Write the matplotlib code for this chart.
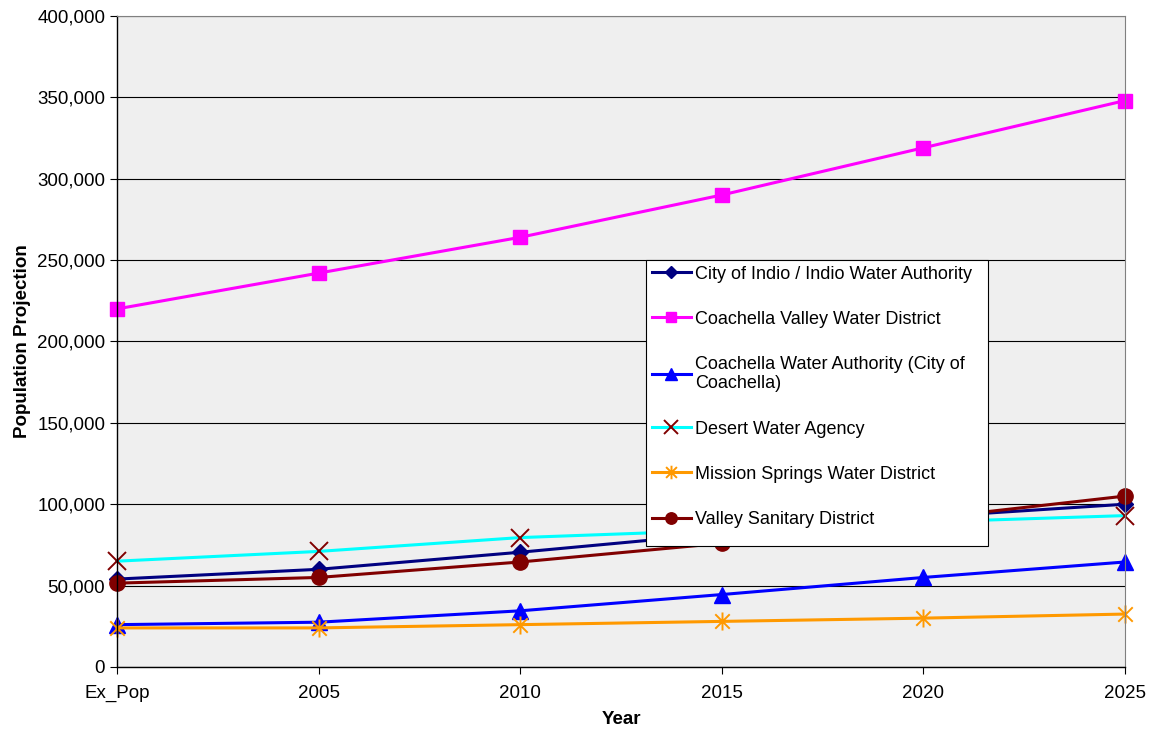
import matplotlib.pyplot as plt
from matplotlib.path import Path
from matplotlib.patches import Rectangle
from matplotlib.ticker import FuncFormatter

plt.rcParams['font.family'] = ['Liberation Sans', 'DejaVu Sans']

years = ["Ex_Pop", "2005", "2010", "2015", "2020", "2025"]

indio = [54000, 60000, 70500, 82000, 92000, 100000]
cvwd = [220000, 242000, 264000, 290000, 319000, 348000]
cwa = [26000, 27500, 34500, 44500, 55000, 64500]
dwa = [65000, 71000, 79500, 84000, 89000, 93000]
mswd = [24000, 24000, 26000, 28000, 30000, 32500]
vsd = [51500, 55000, 64500, 76000, 91000, 105000]

# excel style star: vertical bar plus an x
star = Path([(0, -1), (0, 1), (-0.8, -0.8), (0.8, 0.8), (-0.8, 0.8), (0.8, -0.8)],
            [Path.MOVETO, Path.LINETO, Path.MOVETO, Path.LINETO, Path.MOVETO, Path.LINETO])

x = list(range(len(years)))

fig = plt.figure(figsize=(11.49, 7.36), dpi=100)
ax = fig.add_axes([0.1018, 0.0938, 0.8773, 0.8845])
ax.set_facecolor('#efefef')

lw = 2.2
kw = dict(lw=lw, clip_on=False)
ax.plot(x, indio, color='#000080', marker='D', ms=8, label='City of Indio / Indio Water Authority', **kw)
ax.plot(x, cvwd, color='#ff00ff', marker='s', ms=10, label='Coachella Valley Water District', **kw)
ax.plot(x, cwa, color='#0000ff', marker='^', ms=11, label='Coachella Water Authority (City of\nCoachella)', **kw)
ax.plot(x, dwa, color='#00ffff', marker='x', ms=13, mec='#800000', mew=1.4, label='Desert Water Agency', **kw)
ax.plot(x, mswd, color='#ff9900', marker=star, ms=13, mec='#ff9900', mew=1.4, label='Mission Springs Water District', **kw)
ax.plot(x, vsd, color='#800000', marker='o', ms=11, label='Valley Sanitary District', **kw)

ax.set_xlim(0, 5)
ax.set_ylim(0, 400000)
ax.set_xticks(x)
ax.set_xticklabels(years)
ax.set_yticks(range(0, 400001, 50000))
ax.yaxis.set_major_formatter(FuncFormatter(lambda v, p: f"{int(v):,}"))
ax.tick_params(labelsize=13.5, direction='out', length=5, colors='black')
ax.tick_params(axis='x', pad=8)
ax.grid(axis='y', color='black', lw=0.8)
ax.set_axisbelow(True)
for s in ['left', 'bottom']:
    ax.spines[s].set_color('black')
    ax.spines[s].set_linewidth(1.0)
ax.spines['right'].set_color('#808080')
ax.spines['top'].set_color('#808080')

ax.set_xlabel('Year', fontsize=13.5, fontweight='bold', labelpad=6)
ax.set_ylabel('Population Projection', fontsize=13.5, fontweight='bold', labelpad=4)

# legend box drawn separately so it can have the extra room at the bottom like excel
box = Rectangle((0.525, 0.186), 0.339, 0.439, transform=ax.transAxes,
                facecolor='white', edgecolor='black', lw=0.8, zorder=4, clip_on=False)
ax.add_patch(box)
leg = ax.legend(loc='upper left', bbox_to_anchor=(0.525, 0.625), fontsize=13,
                frameon=False, labelspacing=1.56, handlelength=2.2, handletextpad=0.2,
                borderpad=0.3, borderaxespad=0, markerscale=0.75)
leg.set_zorder(5)

fig.savefig('out.png', dpi=100)
